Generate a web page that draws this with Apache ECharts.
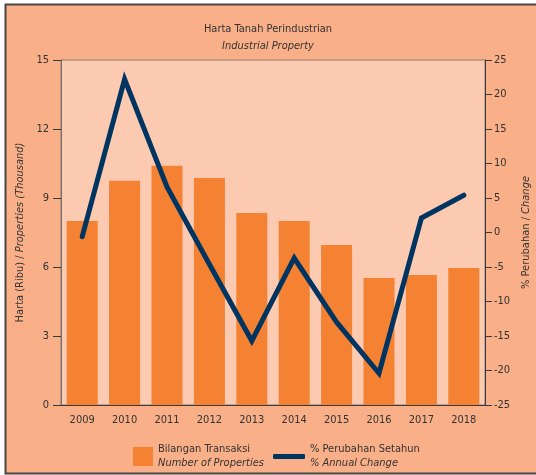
<!DOCTYPE html>
<html>
<head>
<meta charset="utf-8">
<script src="https://cdn.jsdelivr.net/npm/echarts@6/dist/echarts.min.js"></script>
<style>
  html, body { margin: 0; padding: 0; background: #fff; }
  #chart { width: 536px; height: 475px; }
</style>
</head>
<body>
<div id="chart"></div>
<script>
const years = ['2009', '2010', '2011', '2012', '2013', '2014', '2015', '2016', '2017', '2018']
// bilangan transaksi (ribu)
const properties = [8.0, 9.75, 10.4, 9.87, 8.35, 8.0, 6.96, 5.52, 5.65, 5.96]
// % perubahan setahun
const annualChange = [-0.6, 22.2, 6.6, -4.6, -15.7, -3.7, -13.0, -20.4, 2.1, 5.4]
const leftTicks = { min: 0, max: 15, interval: 3 }
const rightTicks = { min: -25, max: 25, interval: 5 }

const FONT = "'DejaVu Sans Condensed', 'Liberation Sans', sans-serif"
const TEXT = '#333'
const FS = 11

const chart = echarts.init(document.getElementById('chart'))

const legendRich = {
  a: { fontFamily: FONT, fontSize: FS, color: TEXT, lineHeight: 14 },
  b: { fontFamily: FONT, fontSize: FS, fontStyle: 'italic', color: TEXT, lineHeight: 14 },
}

chart.setOption({
  animation: false,
  textStyle: { fontFamily: FONT, color: TEXT },
  graphic: [
    {
      type: 'rect',
      z: -10,
      shape: { x: 5, y: 4, width: 540, height: 469 },
      style: { fill: '#F9AF88' },
    },
    {
      type: 'polyline',
      z: -9,
      shape: { points: [[540, 4.5], [5.5, 4.5], [5.5, 473.5], [540, 473.5]] },
      style: { fill: null, stroke: '#4a4443', lineWidth: 2 },
    },
  ],
  title: {
    text: 'Harta Tanah Perindustrian',
    subtext: 'Industrial Property',
    left: 'center',
    top: 19,
    itemGap: 6,
    textStyle: { fontFamily: FONT, fontSize: FS, fontWeight: 'normal', color: TEXT },
    subtextStyle: { fontFamily: FONT, fontSize: FS, fontStyle: 'italic', color: TEXT },
  },
  legend: [
    {
      data: ['Bilangan Transaksi'],
      left: 133,
      top: 444,
      padding: 0,
      icon: 'rect',
      itemWidth: 20,
      itemHeight: 19,
      itemGap: 0,
      formatter: () => '{a|Bilangan Transaksi}\n{b|Number of Properties}',
      textStyle: { rich: legendRich },
    },
    {
      data: ['% Perubahan Setahun'],
      left: 273,
      top: 444,
      padding: 0,
      icon: 'roundRect',
      itemWidth: 32,
      itemHeight: 5,
      itemGap: 0,
      formatter: () => '{a|% Perubahan Setahun}\n{b|% Annual Change}',
      textStyle: { rich: legendRich },
    },
  ],
  grid: {
    left: 61,
    right: 51,
    top: 60,
    bottom: 70,
    outerBoundsMode: 'none',
    show: true,
    backgroundColor: '#FCC9B1',
    borderColor: '#8a7a72',
    borderWidth: 1,
  },
  xAxis: {
    type: 'category',
    data: years,
    axisLine: { lineStyle: { color: '#3a3a3a', width: 1 } },
    axisTick: { inside: true, length: 4, lineStyle: { color: '#3a3a3a' } },
    axisLabel: { color: TEXT, fontSize: FS, margin: 10, fontFamily: FONT },
  },
  yAxis: [
    {
      type: 'value',
      ...leftTicks,
      position: 'left',
      name: '{a|Harta (Ribu) / }{b|Properties (Thousand)}',
      nameLocation: 'middle',
      nameRotate: 90,
      nameGap: 28,
      nameTextStyle: {
        rich: {
          a: { fontFamily: FONT, fontSize: FS, color: TEXT },
          b: { fontFamily: FONT, fontSize: FS, fontStyle: 'italic', color: TEXT },
        },
      },
      axisLine: { show: true, lineStyle: { color: '#7a6e68' } },
      axisTick: { show: true, length: 8, lineStyle: { color: '#3a3a3a' } },
      axisLabel: { color: TEXT, fontSize: FS, margin: 12, fontFamily: FONT },
      splitLine: { show: false },
    },
    {
      type: 'value',
      ...rightTicks,
      position: 'right',
      name: '{a|% Perubahan / }{b|Change}',
      nameLocation: 'middle',
      nameRotate: 90,
      nameGap: 36,
      nameTextStyle: {
        rich: {
          a: { fontFamily: FONT, fontSize: FS, color: TEXT },
          b: { fontFamily: FONT, fontSize: FS, fontStyle: 'italic', color: TEXT },
        },
      },
      axisLine: { show: true, lineStyle: { color: '#3a3a3a' } },
      axisTick: { show: true, length: 7, lineStyle: { color: '#3a3a3a' } },
      axisLabel: { color: TEXT, fontSize: FS, margin: 9, fontFamily: FONT },
      splitLine: { show: false },
    },
  ],
  series: [
    {
      name: 'Bilangan Transaksi',
      type: 'bar',
      barWidth: 31,
      itemStyle: { color: '#F58233' },
      data: properties,
    },
    {
      name: '% Perubahan Setahun',
      type: 'line',
      yAxisIndex: 1,
      symbol: 'none',
      itemStyle: { color: '#003561' },
      lineStyle: { color: '#003561', width: 5, cap: 'round', join: 'miter' },
      data: annualChange,
    },
  ],
})
</script>
</body>
</html>
